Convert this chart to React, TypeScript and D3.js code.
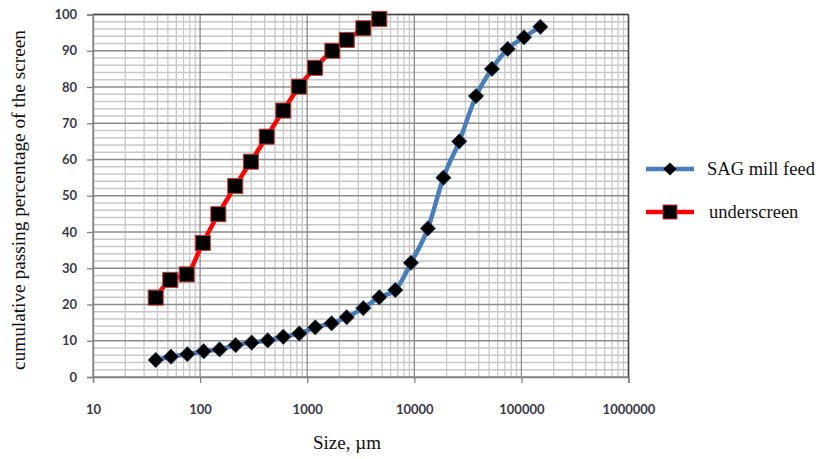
import React, { useRef, useEffect } from "react";
import * as d3 from "d3";

// particle size distribution, size in micrometres
const feedSize = [38.5, 53.5, 76, 108, 152, 215, 303, 428, 598, 844, 1190, 1690, 2340, 3340, 4710, 6650, 9310, 13400, 18700, 26300, 37700, 53100, 74400, 105700, 150200];
const feedPassing = [4.7, 5.6, 6.3, 7.1, 7.6, 8.8, 9.5, 10.1, 11.1, 12.0, 13.7, 14.8, 16.5, 19.0, 22.0, 24.0, 31.5, 41.0, 55.0, 65.0, 77.5, 85.0, 90.5, 93.7, 96.6];

const underSize = [38.5, 52.7, 75, 106, 148, 213, 298, 419, 598, 840, 1185, 1718, 2340, 3344, 4714];
const underPassing = [21.9, 26.8, 28.3, 37.0, 44.9, 52.7, 59.4, 66.3, 73.5, 80.1, 85.3, 90.0, 93.0, 96.2, 98.8];

const xTicks = [10, 100, 1000, 10000, 100000, 1000000];
const yTicks = [0, 10, 20, 30, 40, 50, 60, 70, 80, 90, 100];

const W = 819;
const H = 459;
const SERIF = "Liberation Serif, Times New Roman, Times, serif";

export default function App() {
  const svgRef = useRef<SVGSVGElement>(null);

  useEffect(() => {
    const svg = d3.select(svgRef.current);
    svg.selectAll("*").remove();

    const x = d3.scaleLog().domain([10, 1000000]).range([93, 628.5]);
    const y = d3.scaleLinear().domain([0, 100]).range([377, 14.5]);

    const grid = svg.append("g");
    // minor vertical lines
    const minorX: number[] = [];
    for (let dec = 10; dec < 1000000; dec *= 10) {
      for (let k = 2; k < 10; k++) minorX.push(dec * k);
    }
    grid.selectAll("line.mx").data(minorX).join("line")
      .attr("x1", (d) => x(d)).attr("x2", (d) => x(d))
      .attr("y1", y(0)).attr("y2", y(100))
      .attr("stroke", "#c8c8c8").attr("stroke-width", 1.3);
    // minor horizontal lines
    const minorY = d3.range(0, 101, 2).filter((v) => v % 10 !== 0);
    grid.selectAll("line.my").data(minorY).join("line")
      .attr("x1", x(10)).attr("x2", x(1000000))
      .attr("y1", (d) => y(d)).attr("y2", (d) => y(d))
      .attr("stroke", "#c8c8c8").attr("stroke-width", 1.3);
    // major lines
    grid.selectAll("line.MX").data(xTicks).join("line")
      .attr("x1", (d) => x(d)).attr("x2", (d) => x(d))
      .attr("y1", y(0)).attr("y2", y(100))
      .attr("stroke", "#8c8c8c").attr("stroke-width", 1.3);
    grid.selectAll("line.MY").data(yTicks).join("line")
      .attr("x1", x(10)).attr("x2", x(1000000))
      .attr("y1", (d) => y(d)).attr("y2", (d) => y(d))
      .attr("stroke", "#8c8c8c").attr("stroke-width", 1.3);
    grid.append("line").attr("x1", x(10)).attr("x2", x(1000000)).attr("y1", y(100)).attr("y2", y(100))
      .attr("stroke", "#444").attr("stroke-width", 1.5);
    grid.append("line").attr("x1", x(1000000)).attr("x2", x(1000000)).attr("y1", y(0)).attr("y2", y(100))
      .attr("stroke", "#444").attr("stroke-width", 1.5);

    // axes
    const yAxis = svg.append("g").attr("transform", `translate(${x(10)},0)`)
      .call(d3.axisLeft(y).tickValues(yTicks).tickSize(6).tickPadding(10));
    const xAxis = svg.append("g").attr("transform", `translate(0,${y(0)})`)
      .call(d3.axisBottom(x).tickValues(xTicks).tickFormat(d3.format("d")).tickSize(6).tickPadding(22));
    [xAxis, yAxis].forEach((a) => {
      a.select(".domain").attr("stroke", "#808080").attr("stroke-width", 1.3);
      a.selectAll(".tick line").attr("stroke", "#808080").attr("stroke-width", 1.3);
      a.selectAll("text")
        .attr("font-family", "Lato, 'Open Sans', sans-serif")
        .attr("font-weight", "bold")
        .attr("font-size", 13)
        .attr("fill", "#3a3a4a");
    });

    const line = d3.line<[number, number]>()
      .x((d) => x(d[0])).y((d) => y(d[1]))
      .curve(d3.curveMonotoneX);

    const feed: [number, number][] = feedSize.map((s, i) => [s, feedPassing[i]]);
    const under: [number, number][] = underSize.map((s, i) => [s, underPassing[i]]);

    svg.append("path").datum(feed).attr("d", line)
      .attr("fill", "none").attr("stroke", "#4a7ebb").attr("stroke-width", 4.5);
    svg.append("path").datum(under).attr("d", line)
      .attr("fill", "none").attr("stroke", "#ff0000").attr("stroke-width", 4.5);

    const diamond = d3.symbol().type(d3.symbolDiamond2).size(150);
    svg.append("g").selectAll("path").data(feed).join("path")
      .attr("transform", (d) => `translate(${x(d[0])},${y(d[1])})`)
      .attr("d", diamond)
      .attr("fill", "#000").attr("stroke", "#2a4a70").attr("stroke-width", 0.8);

    svg.append("g").selectAll("rect").data(under).join("rect")
      .attr("x", (d) => x(d[0]) - 7.5).attr("y", (d) => y(d[1]) - 7.5)
      .attr("width", 15).attr("height", 15)
      .attr("fill", "#000").attr("stroke", "#c0392b").attr("stroke-width", 1);

    // titles
    svg.append("text")
      .attr("transform", `translate(25,200) rotate(-90)`)
      .attr("text-anchor", "middle")
      .style("font-family", SERIF)
      .style("font-size", "19.3px")
      .attr("fill", "#111")
      .text("cumulative passing percentage of the screen");
    svg.append("text")
      .attr("x", 347).attr("y", 449)
      .attr("text-anchor", "middle")
      .style("font-family", SERIF)
      .style("font-size", "19px")
      .attr("fill", "#111")
      .text("Size, µm");

    // legend
    const lg = svg.append("g");
    lg.append("line").attr("x1", 646).attr("x2", 694).attr("y1", 169).attr("y2", 169)
      .attr("stroke", "#4a7ebb").attr("stroke-width", 4.5);
    lg.append("path").attr("transform", "translate(670,169)")
      .attr("d", d3.symbol().type(d3.symbolDiamond2).size(110)).attr("fill", "#000");
    lg.append("text").attr("x", 707).attr("y", 175)
      .style("font-family", SERIF).style("font-size", "18.5px").attr("fill", "#111")
      .text("SAG mill feed");
    lg.append("line").attr("x1", 646).attr("x2", 694).attr("y1", 212).attr("y2", 212)
      .attr("stroke", "#ff0000").attr("stroke-width", 4.5);
    lg.append("rect").attr("x", 663).attr("y", 205).attr("width", 14).attr("height", 14)
      .attr("fill", "#000").attr("stroke", "#c0392b").attr("stroke-width", 1);
    lg.append("text").attr("x", 709).attr("y", 218)
      .style("font-family", SERIF).style("font-size", "18.5px").attr("fill", "#111")
      .text("underscreen");
  }, []);

  return (
    <svg ref={svgRef} width={W} height={H}
      style={{ position: "absolute", left: 0, top: 0, background: "#fff" }} />
  );
}
